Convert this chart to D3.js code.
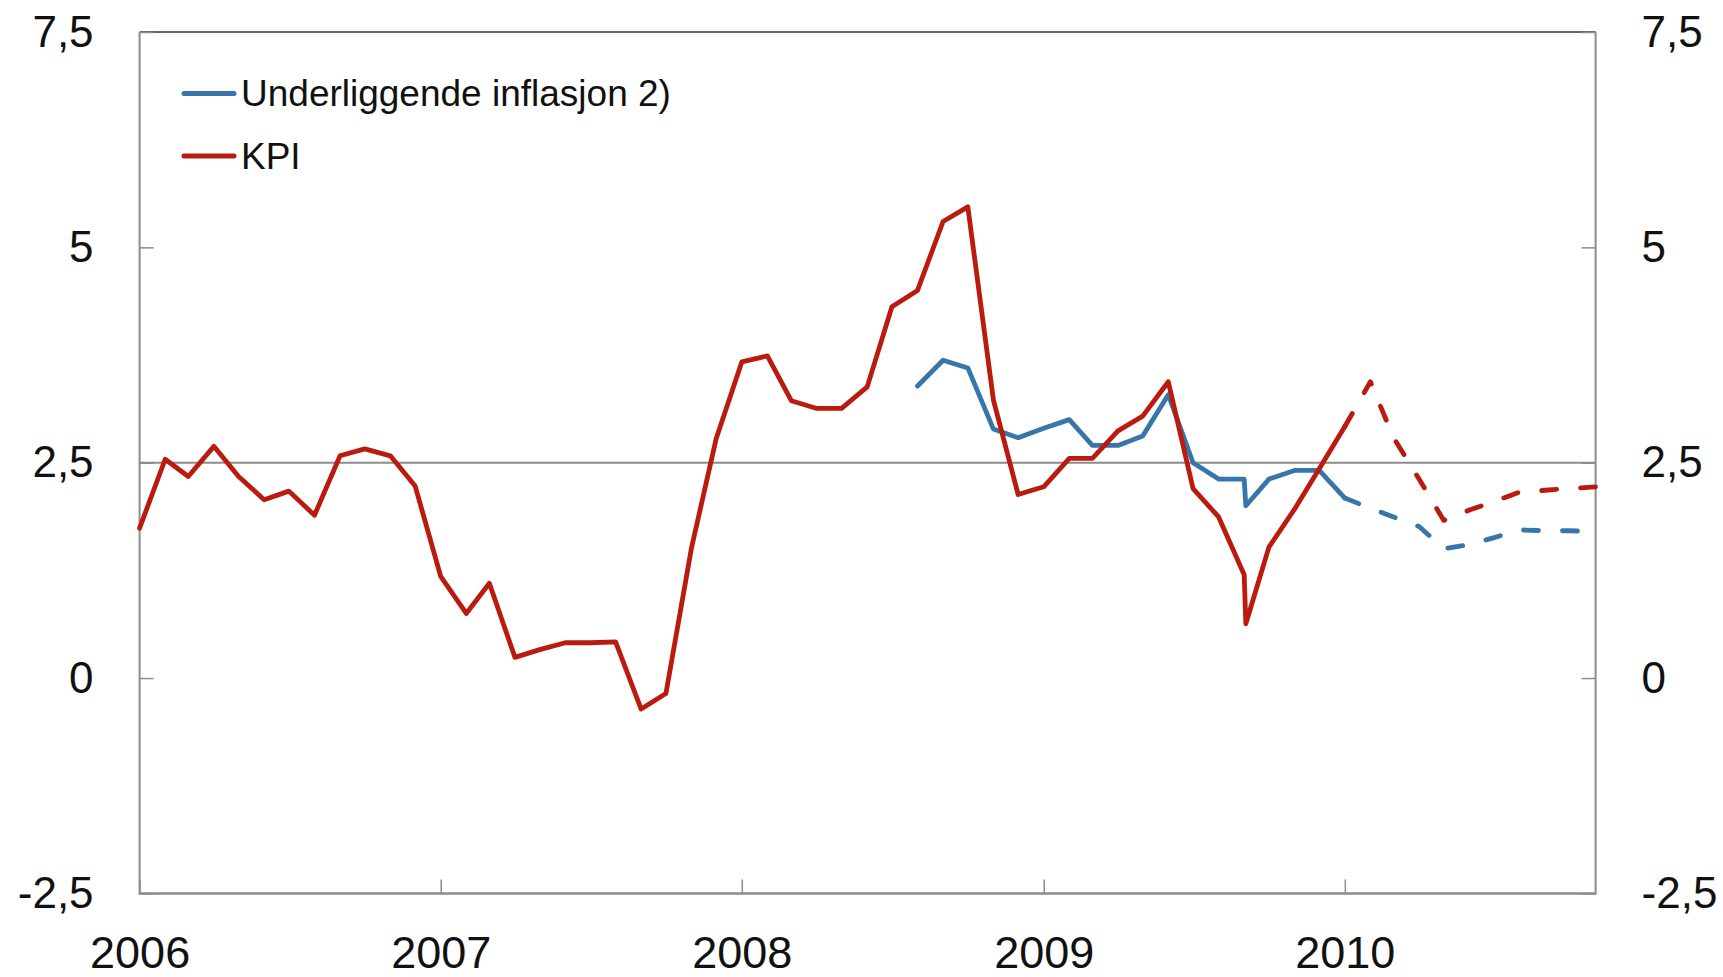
<!DOCTYPE html>
<html lang="no">
<head>
<meta charset="UTF-8">
<title>KPI og underliggende inflasjon</title>
<script src="https://d3js.org/d3.v7.min.js"></script>
<style>
  body { margin: 0; background: #fff; }
  text { font-family: "Liberation Sans", Arial, sans-serif; fill: #111; }
</style>
</head>
<body>
<div id="fig"></div>
<script>
// months (first of month), with an extra point in Sep 2009 for the series break
const dates = [
  "2006-01-01","2006-02-01","2006-03-01","2006-04-01","2006-05-01","2006-06-01",
  "2006-07-01","2006-08-01","2006-09-01","2006-10-01","2006-11-01","2006-12-01",
  "2007-01-01","2007-02-01","2007-03-01","2007-04-01","2007-05-01","2007-06-01",
  "2007-07-01","2007-08-01","2007-09-01","2007-10-01","2007-11-01","2007-12-01",
  "2008-01-01","2008-02-01","2008-03-01","2008-04-01","2008-05-01","2008-06-01",
  "2008-07-01","2008-08-01","2008-09-01","2008-10-01","2008-11-01","2008-12-01",
  "2009-01-01","2009-02-01","2009-03-01","2009-04-01","2009-05-01","2009-06-01",
  "2009-07-01","2009-08-01","2009-09-01","2009-09-03","2009-10-01","2009-11-01",
  "2009-12-01","2010-01-01","2010-02-01","2010-03-01","2010-04-01","2010-05-01",
  "2010-06-01","2010-07-01","2010-08-01","2010-09-01","2010-10-01","2010-11-01"
]

const kpi = [
  1.74, 2.54, 2.34, 2.69, 2.34, 2.07, 2.17, 1.89, 2.58, 2.66, 2.58, 2.23,
  1.18, 0.75, 1.10, 0.24, 0.33, 0.41, 0.41, 0.42, -0.36, -0.18, 1.51, 2.78,
  3.67, 3.74, 3.22, 3.13, 3.13, 3.38, 4.31, 4.50, 5.30, 5.47, 3.23, 2.13,
  2.22, 2.55, 2.55, 2.87, 3.04, 3.44, 2.20, 1.87, 1.20, 0.63, 1.52, 1.96,
  2.43, 2.92, null, null, null, null, null, null, null, null, null, null
]
const kpiForecast = [
  null, null, null, null, null, null, null, null, null, null, null, null,
  null, null, null, null, null, null, null, null, null, null, null, null,
  null, null, null, null, null, null, null, null, null, null, null, null,
  null, null, null, null, null, null, null, null, null, null, null, null,
  null, 2.92, 3.44, 2.79, 2.31, 1.83, 1.95, 2.05, 2.16, 2.18, 2.20, 2.22
]
const underlying = [
  null, null, null, null, null, null, null, null, null, null, null, null,
  null, null, null, null, null, null, null, null, null, null, null, null,
  null, null, null, null, null, null, null, 3.39, 3.69, 3.60, 2.89, 2.79,
  2.90, 3.00, 2.70, 2.70, 2.81, 3.29, 2.50, 2.31, 2.31, 2.00, 2.31, 2.41,
  2.41, 2.09, null, null, null, null, null, null, null, null, null, null
]
const underlyingForecast = [
  null, null, null, null, null, null, null, null, null, null, null, null,
  null, null, null, null, null, null, null, null, null, null, null, null,
  null, null, null, null, null, null, null, null, null, null, null, null,
  null, null, null, null, null, null, null, null, null, null, null, null,
  null, 2.09, 1.97, 1.87, 1.76, 1.50, 1.55, 1.63, 1.72, 1.71, 1.71, 1.70
]

const seriesNames = ["Underliggende inflasjon 2)", "KPI"]
const seriesColors = ["#3676ab", "#bb1a0e"]
const yTicks = [-2.5, 0, 2.5, 5, 7.5]
const yearTicks = ["2006", "2007", "2008", "2009", "2010"]

let W = 1723, H = 977
let mLeft = 139.6, mRight = 1595.6, mTop = 32, mBottom = 893.4
let parse = d3.timeParse("%Y-%m-%d")
let grey = "#8c8c8c"

let svg = d3.select("#fig").append("svg")
    .attr("width", W).attr("height", H)

let x = d3.scaleTime()
    .domain([parse("2006-01-01"), parse("2010-11-01")])
    .range([mLeft, mRight])
let y = d3.scaleLinear().domain([-2.5, 7.5]).range([mBottom, mTop])

let fmt = d => String(d).replace(".", ",")

// frame
svg.append("line").attr("x1", mLeft).attr("x2", mRight).attr("y1", mTop).attr("y2", mTop)
    .attr("stroke", "#333").attr("stroke-width", 1.5)
svg.append("line").attr("x1", mLeft).attr("x2", mRight).attr("y1", y(2.5)).attr("y2", y(2.5))
    .attr("stroke", grey).attr("stroke-width", 2)
svg.append("line").attr("x1", mLeft).attr("x2", mLeft).attr("y1", mTop).attr("y2", mBottom)
    .attr("stroke", grey).attr("stroke-width", 2)
svg.append("line").attr("x1", mRight).attr("x2", mRight).attr("y1", mTop).attr("y2", mBottom)
    .attr("stroke", grey).attr("stroke-width", 2)

// axes
let yl = svg.append("g").attr("transform", `translate(${mLeft},0)`)
    .call(d3.axisLeft(y).tickValues(yTicks).tickFormat(fmt).tickSize(-14).tickPadding(46))
let yr = svg.append("g").attr("transform", `translate(${mRight},0)`)
    .call(d3.axisRight(y).tickValues(yTicks).tickFormat(fmt).tickSize(-14).tickPadding(46))
let xa = svg.append("g").attr("transform", `translate(0,${mBottom})`)
    .call(d3.axisBottom(x).tickValues(yearTicks.map(v => parse(v + "-01-01")))
        .tickFormat(d3.timeFormat("%Y")).tickSize(-14).tickPadding(43))

for (let g of [yl, yr, xa]) {
    g.select(".domain").remove()
    g.selectAll(".tick line").attr("stroke", grey).attr("stroke-width", 1.5)
    g.selectAll("text").style("font-size", "44px").attr("fill", "#111")
}
xa.selectAll("text").style("font-size", "45px")
svg.append("line").attr("x1", mLeft - 1).attr("x2", mRight + 1).attr("y1", mBottom).attr("y2", mBottom)
    .attr("stroke", grey).attr("stroke-width", 2.5)

// lines
function series(vals) {
    return dates.map((d, i) => ({date: parse(d), v: vals[i]}))
}
let line = d3.line()
    .defined(d => d.v != null)
    .x(d => x(d.date))
    .y(d => y(d.v))

let plot = [
    {vals: underlying, color: seriesColors[0], dash: null},
    {vals: underlyingForecast, color: seriesColors[0], dash: "15,24"},
    {vals: kpi, color: seriesColors[1], dash: null},
    {vals: kpiForecast, color: seriesColors[1], dash: "15,24"}
]
plot.forEach(function (p) {
    svg.append("path")
        .datum(series(p.vals))
        .attr("d", line)
        .attr("fill", "none")
        .attr("stroke", p.color)
        .attr("stroke-width", 4.8)
        .attr("stroke-linejoin", "round")
        .attr("stroke-linecap", "round")
        .attr("stroke-dasharray", p.dash)
})

// legend
let leg = svg.append("g")
seriesNames.forEach(function (name, i) {
    let yy = 93.5 + i * 62.5
    leg.append("line").attr("x1", 184).attr("x2", 234).attr("y1", yy).attr("y2", yy)
        .attr("stroke", seriesColors[i]).attr("stroke-width", 5).attr("stroke-linecap", "round")
    leg.append("text").attr("x", 241).attr("y", yy + 12.5)
        .style("font-size", "37px").text(name)
})
</script>
</body>
</html>
